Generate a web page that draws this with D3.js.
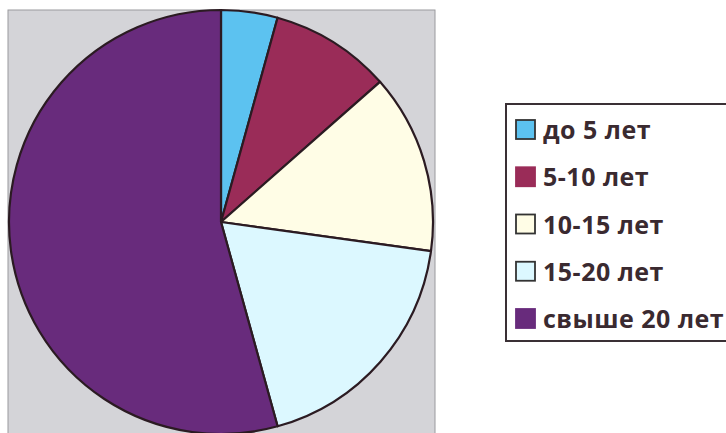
<!DOCTYPE html>
<html><head><meta charset="utf-8">
<script src="https://cdn.jsdelivr.net/npm/d3@7"></script>
<style>body{margin:0;background:#fff;}svg{display:block;}</style>
</head><body>
<script>
const categories = ["до 5 лет", "5-10 лет", "10-15 лет", "15-20 лет", "свыше 20 лет"];
const values = [4.3, 9.2, 13.7, 18.5, 54.3];
const colors = ["#5cc2f0", "#9a2c58", "#fffde6", "#dcf8ff", "#682b7c"];

const W = 726, H = 433;
const svg = d3.select("body").append("svg").attr("width", W).attr("height", H);

// plot panel
svg.append("rect").attr("x", 8).attr("y", 10).attr("width", 427).attr("height", 430)
  .attr("fill", "#d4d4d8").attr("stroke", "#9a9a9e").attr("stroke-width", 1);

const cx = 221, cy = 222, r = 212;
const pie = d3.pie().sort(null).value(d => d)(values);
const arc = d3.arc().innerRadius(0).outerRadius(r);
const g = svg.append("g").attr("transform", `translate(${cx},${cy})`);
g.selectAll("path").data(pie).join("path")
  .attr("d", arc)
  .attr("fill", (d, i) => colors[i])
  .attr("stroke", "#2b1b22").attr("stroke-width", 2.2).attr("stroke-linejoin", "round");

// legend
svg.append("rect").attr("x", 506).attr("y", 104).attr("width", 240).attr("height", 237)
  .attr("fill", "#fff").attr("stroke", "#3a3035").attr("stroke-width", 2);
const lg = svg.append("g");
const rowY = d3.scalePoint().domain(categories).range([139, 328]);
categories.forEach((c, i) => {
  const y = rowY(c);
  lg.append("rect").attr("x", 516).attr("y", y - 19).attr("width", 19).attr("height", 19)
    .attr("fill", colors[i]).attr("stroke", (i === 1 || i === 4) ? colors[i] : "#333").attr("stroke-width", 1.8);
  lg.append("text").attr("x", 543).attr("y", y)
    .attr("font-family", "'Open Sans', sans-serif").attr("font-weight", "bold")
    .attr("font-size", 25).attr("letter-spacing", 0.5).attr("fill", "#3a2a30").text(c);
});
</script>
</body></html>
